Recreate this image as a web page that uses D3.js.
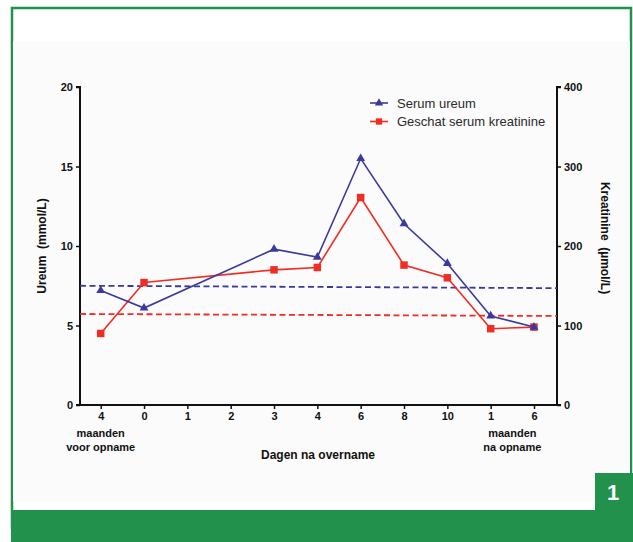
<!DOCTYPE html>
<html>
<head>
<meta charset="utf-8">
<script src="https://cdn.jsdelivr.net/npm/d3@7"></script>
<style>
  body { margin: 0; background: #fff; }
  svg { display: block; font-family: "Liberation Sans", Arial, sans-serif; }
</style>
</head>
<body>
<div id="chart"></div>
<script>
// Categories on the x axis (first line of label)
var categories = ["4", "0", "1", "2", "3", "4", "6", "8", "10", "1", "6"];
// Serum ureum (mmol/L), left axis - no value on day 1 and 2
var ureum = [7.2, 6.1, null, null, 9.8, 9.3, 15.5, 11.4, 8.9, 5.6, 4.9];
// Geschat serum kreatinine (umol/L), right axis
var kreatinine = [90, 154, null, null, 170, 173, 261, 176, 160, 96, 98];
// Reference (dashed) lines, value at left and right end of the axis
var ureumRef = [7.5, 7.35];
var kreatRef = [114.5, 112];
var leftTicks = [0, 5, 10, 15, 20];
var rightTicks = [0, 100, 200, 300, 400];

var W = 633, H = 542;
var green = "#21914b";
var blue = "#3b3a9c";
var red = "#ef2d25";

var svg = d3.select("#chart").append("svg")
    .attr("width", W)
    .attr("height", H);

// page frame
svg.append("rect").attr("x", 12).attr("y", 8).attr("width", 619).attr("height", 520)
    .attr("fill", "#fff").attr("stroke", green).attr("stroke-width", 2.5);
svg.append("rect").attr("x", 13).attr("y", 41).attr("width", 617).attr("height", 460)
    .attr("fill", "#fbfbfb");
svg.append("rect").attr("x", 11).attr("y", 510).attr("width", 622).attr("height", 32)
    .attr("fill", green);
svg.append("rect").attr("x", 595).attr("y", 473).attr("width", 38).attr("height", 40)
    .attr("fill", green);
svg.append("text").attr("x", 613).attr("y", 500)
    .attr("text-anchor", "middle").attr("fill", "#fff")
    .attr("font-size", 22).attr("font-weight", "bold")
    .text("1");

// plot area
var x0 = 80, x1 = 557, yTop = 87, yBot = 405;

var x = d3.scalePoint()
    .domain(d3.range(categories.length))
    .range([100.7, 534]);

var yL = d3.scaleLinear().domain([0, 20]).range([yBot, yTop]);
var yR = d3.scaleLinear().domain([0, 400]).range([yBot, yTop]);

// left axis
var leftAxis = svg.append("g")
    .attr("transform", "translate(" + x0 + ",0)")
    .call(d3.axisLeft(yL).tickValues(leftTicks).tickSize(4).tickPadding(3));
// right axis
var rightAxis = svg.append("g")
    .attr("transform", "translate(" + x1 + ",0)")
    .call(d3.axisRight(yR).tickValues(rightTicks).tickSize(4).tickPadding(3));
// bottom axis
var xAxisScale = d3.scaleLinear().domain([x0, x1]).range([x0, x1]);
var bottomAxis = svg.append("g")
    .attr("transform", "translate(0," + yBot + ")")
    .call(d3.axisBottom(xAxisScale)
        .tickValues(d3.range(categories.length).map(function(i) { return x(i); }))
        .tickFormat(function(d, i) { return categories[i]; })
        .tickSize(4).tickPadding(3).tickSizeOuter(0));

[leftAxis, rightAxis, bottomAxis].forEach(function(g) {
    g.select(".domain").attr("stroke", "#111").attr("stroke-width", 2);
    g.selectAll(".tick line").attr("stroke", "#111").attr("stroke-width", 1.5);
    g.selectAll("text").attr("fill", "#111").attr("font-size", 11)
        .attr("font-weight", "bold")
        .attr("font-family", "Liberation Sans, Arial, sans-serif");
});
leftAxis.select(".domain").attr("d", "M-4," + yTop + "H0V" + yBot + "H-4");
rightAxis.select(".domain").attr("d", "M4," + yTop + "H0V" + yBot + "H4");
bottomAxis.select(".domain").attr("d", "M" + x0 + ",0H" + x1);

// axis titles
svg.append("text")
    .attr("transform", "translate(46,246) rotate(-90)")
    .attr("text-anchor", "middle")
    .attr("font-size", 12).attr("font-weight", "bold").attr("fill", "#111")
    .style("white-space", "pre")
    .text("Ureum  (mmol/L)");
svg.append("text")
    .attr("transform", "translate(601,238) rotate(90)")
    .attr("text-anchor", "middle")
    .attr("font-size", 12).attr("font-weight", "bold").attr("fill", "#111")
    .style("white-space", "pre")
    .text("Kreatinine  (\u00b5mol/L)");
svg.append("text")
    .attr("x", 318).attr("y", 459)
    .attr("text-anchor", "middle")
    .attr("font-size", 12).attr("font-weight", "bold").attr("fill", "#111")
    .text("Dagen na overname");

// extra category labels
var subLabels = [
    { at: [0, 0], lines: ["maanden", "voor opname"] },
    { at: [9, 10], lines: ["maanden", "na opname"] }
];
subLabels.forEach(function(s) {
    var cx = (x(s.at[0]) + x(s.at[1])) / 2;
    s.lines.forEach(function(t, j) {
        svg.append("text")
            .attr("x", cx).attr("y", 437 + j * 14)
            .attr("text-anchor", "middle")
            .attr("font-size", 11).attr("font-weight", "bold").attr("fill", "#111")
            .text(t);
    });
});

// dashed reference lines
svg.append("line")
    .attr("x1", x0).attr("x2", x1)
    .attr("y1", yL(ureumRef[0])).attr("y2", yL(ureumRef[1]))
    .attr("stroke", blue).attr("stroke-width", 1.8).attr("stroke-dasharray", "6,3.5");
svg.append("line")
    .attr("x1", x0).attr("x2", x1)
    .attr("y1", yR(kreatRef[0])).attr("y2", yR(kreatRef[1]))
    .attr("stroke", red).attr("stroke-width", 1.8).attr("stroke-dasharray", "6,3.5");

// series
function drawSeries(values, yScale, color, symbol, size) {
    var pts = values.map(function(v, i) { return { i: i, v: v }; })
        .filter(function(d) { return d.v != null; });
    var line = d3.line()
        .x(function(d) { return x(d.i); })
        .y(function(d) { return yScale(d.v); });
    svg.append("path")
        .datum(pts)
        .attr("d", line)
        .attr("fill", "none")
        .attr("stroke", color)
        .attr("stroke-width", 1.6);
    svg.selectAll(null)
        .data(pts)
        .enter()
        .append("path")
        .attr("transform", function(d) { return "translate(" + x(d.i) + "," + yScale(d.v) + ")"; })
        .attr("d", d3.symbol().type(symbol).size(size))
        .attr("fill", color);
}
drawSeries(kreatinine, yR, red, d3.symbolSquare, 56);
drawSeries(ureum, yL, blue, d3.symbolTriangle, 34);

// legend
var legend = [
    { name: "Serum ureum", color: blue, symbol: d3.symbolTriangle, size: 30 },
    { name: "Geschat serum kreatinine", color: red, symbol: d3.symbolSquare, size: 40 }
];
legend.forEach(function(l, i) {
    var ly = 103 + i * 18.5;
    svg.append("line").attr("x1", 370).attr("x2", 388).attr("y1", ly).attr("y2", ly)
        .attr("stroke", l.color).attr("stroke-width", 1.6);
    svg.append("path")
        .attr("transform", "translate(379," + ly + ")")
        .attr("d", d3.symbol().type(l.symbol).size(l.size))
        .attr("fill", l.color);
    svg.append("text")
        .attr("x", 397).attr("y", ly + 4.5)
        .attr("font-size", 13).attr("fill", "#2a2a2a")
        .text(l.name);
});
</script>
</body>
</html>
